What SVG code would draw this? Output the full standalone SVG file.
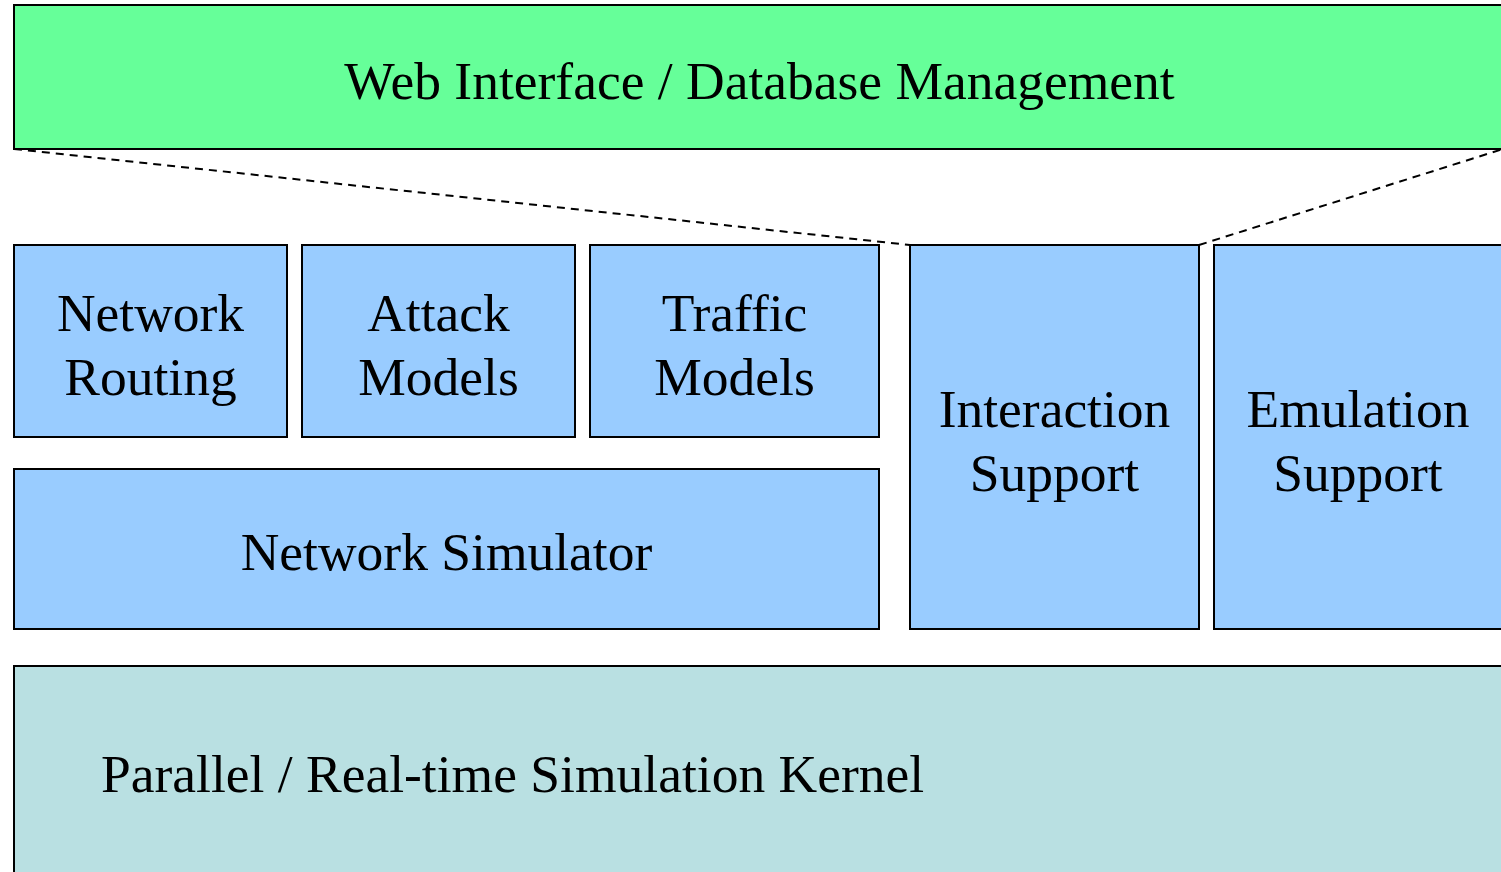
<svg xmlns="http://www.w3.org/2000/svg" width="1501" height="872" viewBox="0 0 1501 872">
<style>
  .box { stroke: #000; stroke-width: 2; }
  .green { fill: #66ff99; }
  .blue { fill: #99ccff; }
  .teal { fill: #b9e0e2; }
  .lbl { font-family: "Liberation Serif", "Times New Roman", serif; font-size: 53.5px; fill: #000; text-anchor: middle; }
  .dash { stroke: #000; stroke-width: 2; stroke-dasharray: 8 6; fill: none; }
</style>
<rect width="1501" height="872" fill="#fff"/>
<g id="web">
  <rect class="box green" x="14" y="5" width="1491" height="144"/>
  <text class="lbl" x="759.5" y="99">Web Interface / Database Management</text>
</g>
<g id="connectors">
  <line class="dash" x1="14" y1="149" x2="910" y2="245"/>
  <line class="dash" x1="1199" y1="245" x2="1503" y2="149"/>
</g>
<g id="routing">
  <rect class="box blue" x="14" y="245" width="273" height="192"/>
  <text class="lbl" x="150.5" y="331">Network</text>
  <text class="lbl" x="150.5" y="395">Routing</text>
</g>
<g id="attack">
  <rect class="box blue" x="302" y="245" width="273" height="192"/>
  <text class="lbl" x="438.5" y="331">Attack</text>
  <text class="lbl" x="438.5" y="395">Models</text>
</g>
<g id="traffic">
  <rect class="box blue" x="590" y="245" width="289" height="192"/>
  <text class="lbl" x="734.5" y="331">Traffic</text>
  <text class="lbl" x="734.5" y="395">Models</text>
</g>
<g id="simulator">
  <rect class="box blue" x="14" y="469" width="865" height="160"/>
  <text class="lbl" x="446.5" y="570">Network Simulator</text>
</g>
<g id="interaction">
  <rect class="box blue" x="910" y="245" width="289" height="384"/>
  <text class="lbl" x="1054.5" y="427">Interaction</text>
  <text class="lbl" x="1054.5" y="491">Support</text>
</g>
<g id="emulation">
  <rect class="box blue" x="1214" y="245" width="290" height="384"/>
  <text class="lbl" x="1358" y="427">Emulation</text>
  <text class="lbl" x="1358" y="491">Support</text>
</g>
<g id="kernel">
  <rect class="box teal" x="14" y="666" width="1491" height="220"/>
  <text class="lbl" x="101" y="792" style="text-anchor:start">Parallel / Real-time Simulation Kernel</text>
</g>
</svg>
